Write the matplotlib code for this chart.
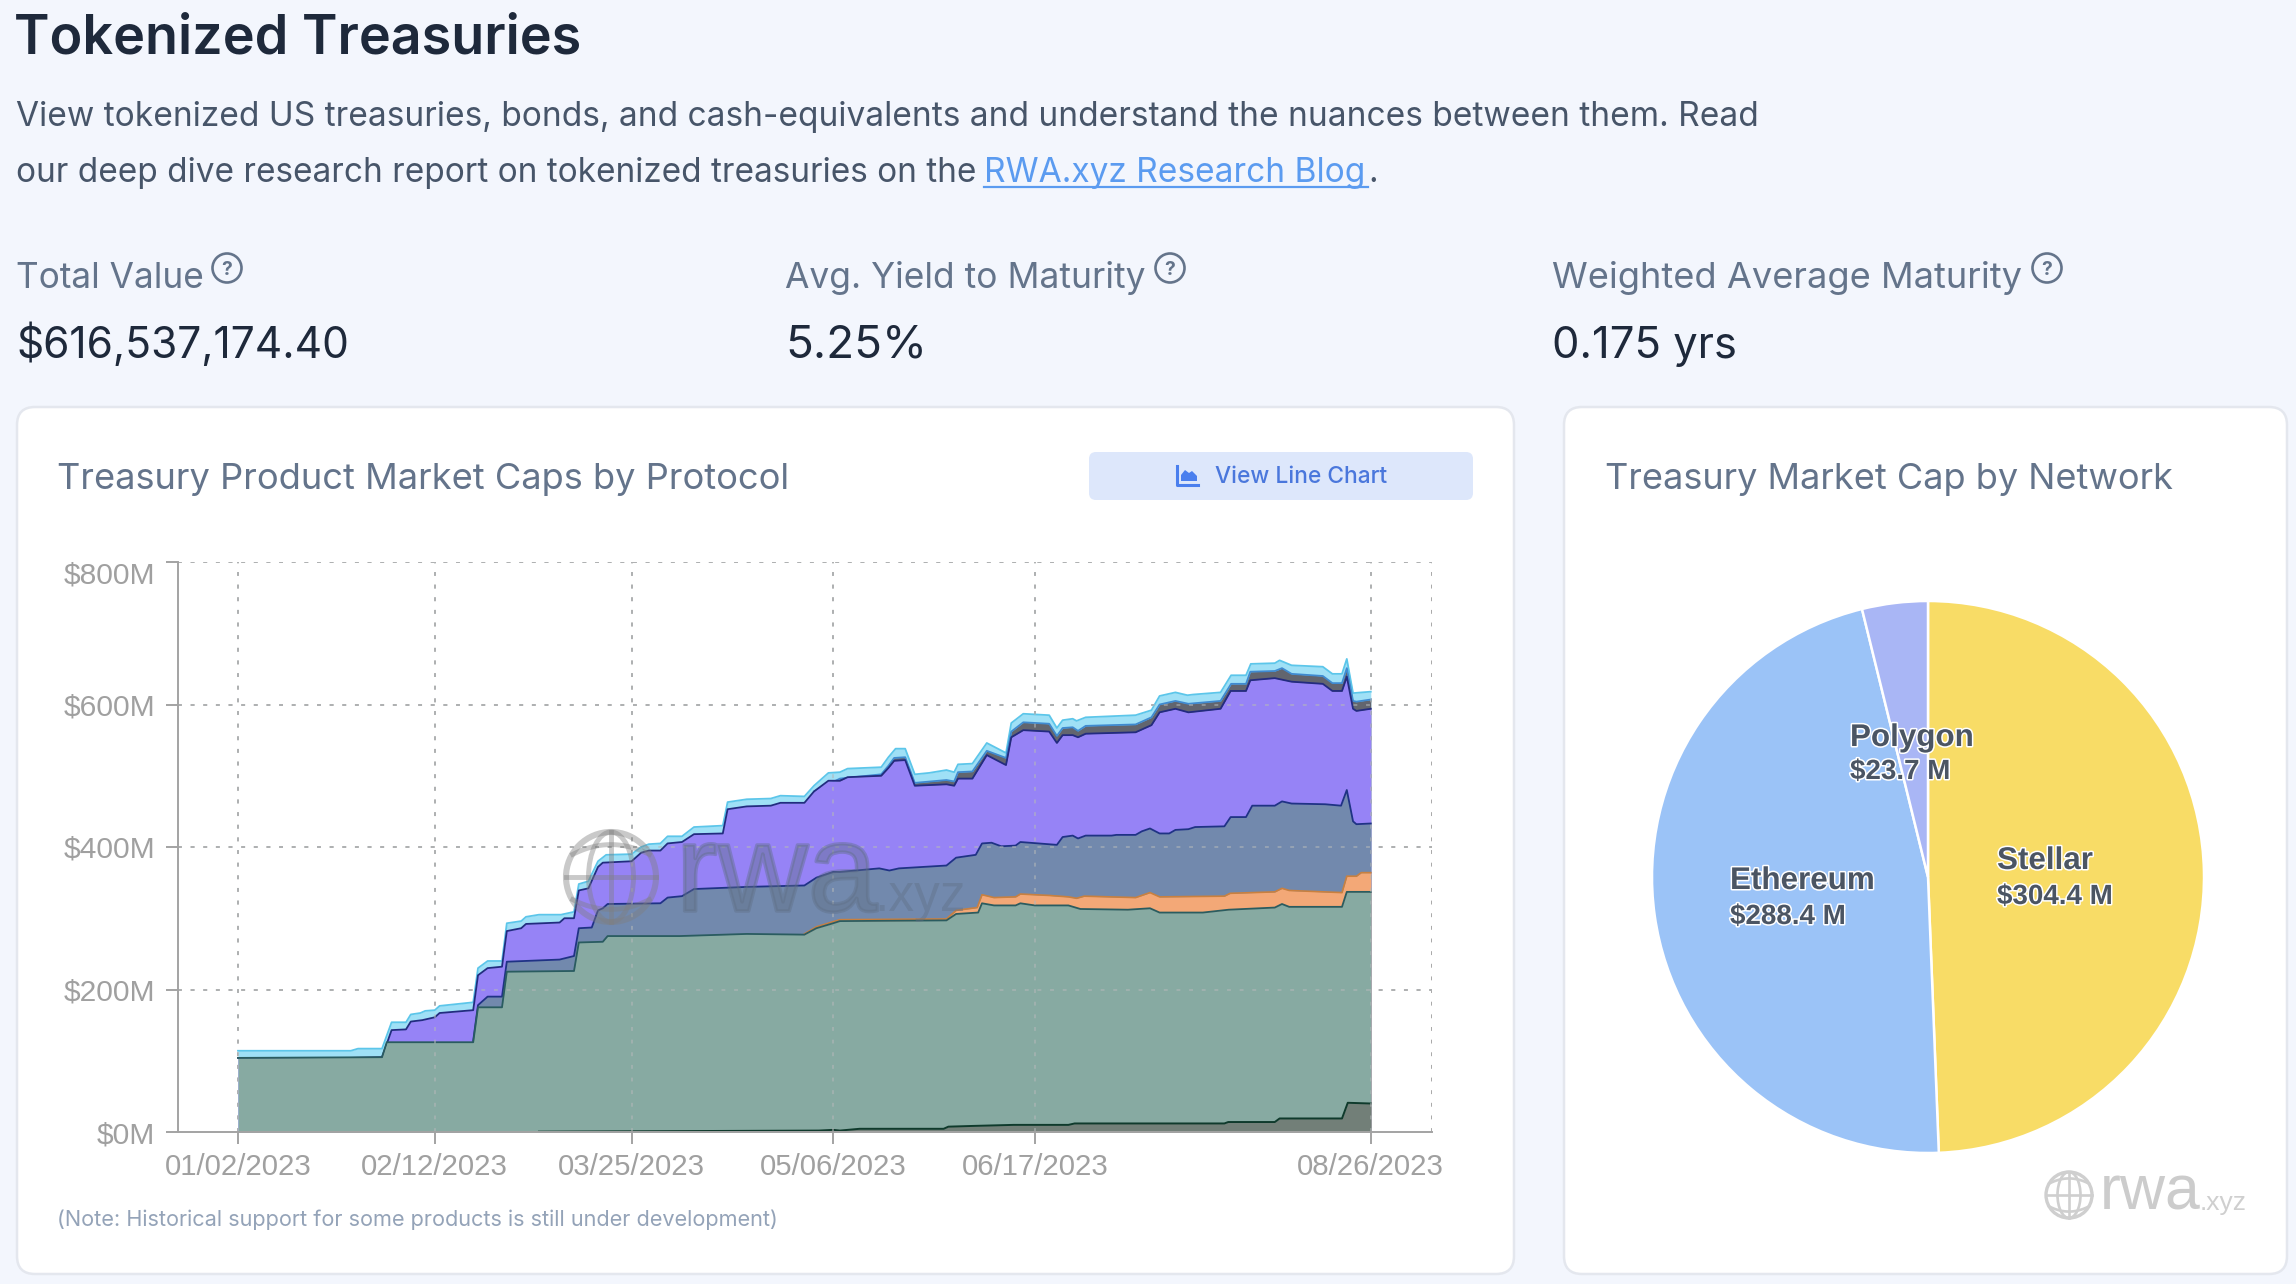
import matplotlib
matplotlib.use('Agg')
import matplotlib.pyplot as plt
from matplotlib.patches import FancyBboxPatch, Circle, Ellipse, Polygon
import matplotlib.patheffects as pe
import numpy as np

plt.rcParams['font.family'] = ['Inter', 'DejaVu Sans']

# curves are read as running totals, x is days since 01/02/2023
tick_days = [0, 41, 82, 124, 166, 236]
tick_labels = ['01/02/2023', '02/12/2023', '03/25/2023', '05/06/2023', '06/17/2023', '08/26/2023']
y_ticks = [0, 200, 400, 600, 800]
y_labels = ['$0M', '$200M', '$400M', '$600M', '$800M']

top_days = [0, 23.5, 25, 30, 32, 35, 36, 38, 39, 41, 42, 49, 50, 52, 55, 56, 59, 60, 62.7, 67.3, 70, 71, 73, 75, 76.7, 82, 84, 85.6, 88, 89.5, 92.5, 95, 101, 102, 106, 111, 113, 118, 120, 123, 125.4, 127, 134, 135.5, 137, 139, 141, 144, 147.6, 149.2, 150, 153, 156, 160, 161.1, 163.6, 169, 170.6, 171.8, 173.9, 174.7, 176.6, 187, 190.3, 192, 195.3, 197.8, 199, 204.7, 206.9, 210, 211, 216, 217, 219.5, 226, 228, 230, 231, 232.3, 236]
top_vals = [114, 114, 117, 117, 154, 154, 165, 167, 170, 171, 177, 182, 230, 240, 240, 293, 296, 302, 305, 305, 309, 348, 352, 380, 389, 390, 400, 404, 405, 415, 415, 428, 430, 463, 467, 468, 472, 471, 486, 504, 505, 510, 512, 526, 538, 538, 502, 504, 508, 505, 516, 517, 546, 532, 574, 587, 585, 567, 578, 580, 577, 582, 585, 592, 612, 617, 613, 614, 617, 641, 641, 657, 658, 662, 655, 653, 643, 643, 664, 616, 618]

gray_days = [120, 125.4, 134, 135.5, 136.7, 139, 141, 147.6, 149.2, 150, 153, 156, 160, 161.1, 163.6, 169, 170.6, 171.8, 173.9, 175, 176.6, 187, 190.3, 192, 195.3, 198, 204.7, 206.9, 210, 210.9, 216, 217.5, 219.5, 226, 228, 230, 231, 232.3, 233, 236]
gray_vals = [478, 496, 502, 514, 525, 526, 490, 494, 492, 505, 506, 535, 525, 562, 575, 573, 556, 567, 568, 563, 570, 572, 582, 600, 605, 601, 605, 629, 629, 646, 647, 651, 643, 640, 630, 630, 651, 605, 604, 607]

purple_days = [0, 23.5, 30, 32, 35, 36, 38.4, 41, 42, 49, 50, 52, 55, 56, 59, 60, 67, 68, 70, 71, 73, 75, 76, 82, 84, 85.6, 88, 89.5, 92.5, 95, 101, 102, 106, 111, 113, 118, 120, 123, 125.4, 127, 134, 135.5, 136.7, 139, 141, 147.6, 149.2, 150, 153, 156, 160, 161.1, 163.6, 169, 170.6, 171.8, 173.9, 175, 176.6, 187, 190.3, 192, 195.3, 198, 204.7, 206.8, 210, 210.9, 216, 219.5, 226, 228, 230, 231, 232.3, 233, 236]
purple_vals = [104, 104, 105, 143, 144, 155, 157, 161, 167, 171, 220, 230, 232, 282, 286, 292, 294, 300, 300, 339, 342, 372, 378, 380, 392, 395, 395, 405, 407, 418, 419, 453, 457, 458, 462, 462, 478, 493, 493, 498, 500, 511, 521, 522, 486, 488, 486, 496, 496, 529, 515, 554, 564, 562, 546, 557, 557, 554, 559, 561, 571, 589, 594, 589, 594, 619, 619, 634, 637, 632, 629, 619, 619, 639, 594, 591, 594]

slate_days = [49, 50, 52, 55, 56, 67, 70, 71, 73.7, 75, 76, 77, 88, 89.5, 92.5, 95, 106, 118, 120.5, 124, 125.4, 133.6, 135.7, 137.7, 147.6, 149.6, 153.7, 155, 157, 159, 162, 163, 170.6, 171.8, 173.9, 175, 176.6, 182, 183, 187, 188.3, 190, 192, 194, 195.3, 198, 199.4, 205.5, 206.8, 210, 211.3, 216, 217.5, 219.5, 226.5, 229.8, 231, 232.3, 233, 236]
slate_vals = [128, 178, 190, 190, 239, 242, 247, 286, 287, 311, 314, 320, 321, 329, 331, 341, 344, 346, 357, 365, 365, 370, 367, 370, 374, 385, 389, 405, 406, 401, 402, 407, 403, 414, 416, 412, 416, 416, 417, 417, 422, 426, 419, 419, 424, 425, 428, 429, 442, 442, 458, 458, 464, 461, 460, 458, 480, 436, 432, 433]

orange_days = [118, 120.5, 125.4, 147.6, 149.6, 154, 155, 157.5, 162, 163, 169, 173, 174.7, 176.3, 187, 190, 192, 205.5, 206.7, 216, 217.5, 219, 230, 231, 233, 234, 236]
orange_vals = [278, 288, 298, 299, 311, 315, 333, 329, 330, 334, 332, 330, 328, 331, 329, 336, 330, 331, 335, 337, 342, 339, 336, 359, 359, 364, 364]

teal_days = [0, 30, 31, 49, 50, 55, 56, 70, 71, 76, 77, 92, 106, 118, 120.5, 124, 125.4, 147.6, 149.6, 154.2, 155, 157.5, 162, 163, 166, 173, 175.5, 185.4, 190, 192, 201, 206.4, 216, 217.5, 219, 230, 231, 236]
teal_vals = [104, 105, 126, 126, 175, 175, 225, 226, 266, 267, 275, 275, 278, 277, 286, 293, 296, 297, 306, 308, 321, 318, 318, 321, 318, 318, 313, 312, 314, 308, 308, 312, 315, 320, 316, 316, 337, 337]

bottom_days = [62.7, 121, 124, 125.4, 129.5, 147, 148, 153, 161.6, 173, 174.3, 205.5, 206.3, 216, 217, 230, 231.2, 236]
bottom_vals = [0.5, 2, 3, 2, 4.5, 4.5, 7.5, 8.5, 10, 10, 12, 12, 14, 14, 19, 19, 41, 40]

networks = ['Stellar', 'Ethereum', 'Polygon']
network_vals = [304.4, 288.4, 23.7]
network_text = ['$304.4 M', '$288.4 M', '$23.7 M']

W, H = 2296, 1284
BG = '#f3f6fd'
DARK = '#1e293b'
MUTED = '#64748b'
ARIAL = 'Liberation Sans'


def px_axes(fig, left, top, right, bottom, **kw):
    return fig.add_axes([left / W, 1 - bottom / H, (right - left) / W, (bottom - top) / H], **kw)


def card(ax, x0, y0, x1, y1):
    ax.add_patch(FancyBboxPatch((x0, y0), x1 - x0, y1 - y0, boxstyle='round,pad=0,rounding_size=18',
                                fc='white', ec='#e4e7ee', lw=1.8))


def help_icon(ax, x, y):
    ax.add_patch(Circle((x, y), 14.5, fc='none', ec=MUTED, lw=1.9))
    ax.text(x, y + 7, '?', fontsize=14, color=MUTED, ha='center', va='baseline', fontweight='bold')


def globe(ax, x, y, r, color, lw, alpha=1.0):
    ax.add_patch(Circle((x, y), r, fc='none', ec=color, lw=lw, alpha=alpha))
    ax.add_patch(Ellipse((x, y), r, 2 * r, fc='none', ec=color, lw=lw * 0.8, alpha=alpha))
    ax.plot([x, x], [y - r, y + r], color=color, lw=lw * 0.8, alpha=alpha)
    ax.plot([x - r, x + r], [y, y], color=color, lw=lw * 0.8, alpha=alpha)
    t = np.linspace(-0.85, 0.85, 30) * r
    for s in (-1, 1):
        ax.plot(x + t, y + s * (0.72 * r - 0.3 * r * (t / r) ** 2), color=color, lw=lw * 0.8, alpha=alpha)


fig = plt.figure(figsize=(W / 100, H / 100), dpi=100, facecolor=BG)

bg = px_axes(fig, 0, 0, W, H, zorder=0)
bg.set_xlim(0, W)
bg.set_ylim(H, 0)
bg.axis('off')

bg.text(14, 53, 'Tokenized Treasuries', fontsize=38.8, color=DARK, fontweight='semibold')
bg.text(16, 126, 'View tokenized US treasuries, bonds, and cash-equivalents and understand the nuances between them. Read',
        fontsize=24.1, color='#475569')
bg.text(16, 182, 'our deep dive research report on tokenized treasuries on the', fontsize=24, color='#475569')
bg.text(984, 182, 'RWA.xyz Research Blog', fontsize=24.1, color='#5b9bf0')
bg.plot([984, 1368], [187, 187], color='#5b9bf0', lw=1.6)
bg.text(1368, 182, '.', fontsize=24.1, color='#475569')

kpi_x = [16, 785, 1552]
kpi_names = ['Total Value', 'Avg. Yield to Maturity', 'Weighted Average Maturity']
kpi_vals = ['$616,537,174.40', '5.25%', '0.175 yrs']
kpi_icon = [227, 1170, 2047]
kpi_name_size = [25.4, 25.5, 26.1]
kpi_val_size = [30.6, 33, 31.3]
for x, name, val, ix, s1, s2 in zip(kpi_x, kpi_names, kpi_vals, kpi_icon, kpi_name_size, kpi_val_size):
    bg.text(x, 288, name, fontsize=s1, color=MUTED)
    bg.text(x, 358, val, fontsize=s2, color=DARK)
    help_icon(bg, ix, 268)

card(bg, 17, 407, 1514, 1274)
card(bg, 1564, 407, 2287, 1274)

bg.text(57, 489, 'Treasury Product Market Caps by Protocol', fontsize=26.1, color=MUTED)
bg.text(1605, 489, 'Treasury Market Cap by Network', fontsize=26, color=MUTED)
bg.text(57, 1226, '(Note: Historical support for some products is still under development)', fontsize=15.6, color='#94a3b8')

# button
bg.add_patch(FancyBboxPatch((1089, 452), 384, 48, boxstyle='round,pad=0,rounding_size=7', fc='#dde7fb', ec='none'))
bg.text(1215, 483, 'View Line Chart', fontsize=16.4, color='#4a77dc', fontweight='medium')
bg.plot([1176.5, 1176.5, 1198], [466, 485, 485], color='#4a7fee', lw=2.2)
bg.add_patch(Polygon([(1181, 481), (1181, 475), (1185, 470), (1189, 473), (1192, 471), (1197, 476), (1197, 481)],
                     fc='#4a7fee', ec='none'))

# stacked area chart, painted from the top curve down
ax = px_axes(fig, 178, 562, 1432, 1132, zorder=1)
ax.patch.set_alpha(0)
ax.set_xlim((178 - 238) / 4.8, (1432 - 238) / 4.8)
ax.set_ylim(0, 800)

grid_dash = (0, (2, 4.5))
for d in tick_days + [ax.get_xlim()[1]]:
    ax.axvline(d, color='#a8a8a8', lw=1.4, ls=grid_dash, zorder=1)
for v in y_ticks[1:]:
    ax.axhline(v, color='#a8a8a8', lw=1.4, ls=grid_dash, zorder=1)

layers = [
    (top_days, top_vals, '#9fe0f6', '#5cc6ea', 1.3),
    (gray_days, gray_vals, '#62656e', '#3f8ad0', 1.3),
    (purple_days, purple_vals, '#9683f6', '#232b80', 1.3),
    (slate_days, slate_vals, '#7289ad', '#1f3384', 1.3),
    (orange_days, orange_vals, '#f3a877', '#c9803f', 1.2),
    (teal_days, teal_vals, '#87aaa2', '#2a5c60', 1.3),
    (bottom_days, bottom_vals, '#727f78', '#0f3a2c', 1.4),
]
for i, (days, vals, fill, edge, lw) in enumerate(layers):
    z = 2 + i * 0.1
    ax.fill_between(days, vals, 0, color=fill, lw=0, zorder=z)
    ax.plot(days, vals, color=edge, lw=lw, zorder=z, solid_joinstyle='round')

# gridlines show faintly through the areas
for d in tick_days:
    ax.axvline(d, color='#b4b8ba', lw=1.4, ls=grid_dash, alpha=0.55, zorder=4)
for v in y_ticks[1:]:
    ax.axhline(v, color='#b4b8ba', lw=1.4, ls=grid_dash, alpha=0.55, zorder=4)

ax.set_xticks(tick_days)
ax.set_xticklabels(tick_labels, family=ARIAL, fontsize=21.2, color='#a0a0a0')
ax.set_yticks(y_ticks)
ax.set_yticklabels(y_labels, family=ARIAL, fontsize=21.6, color='#a0a0a0')
ax.get_yticklabels()[-1].set_va('top')
ax.tick_params(axis='x', length=8.6, width=1.4, color='#a3a3a3', pad=6.5)
ax.tick_params(axis='y', length=8.6, width=1.4, color='#a3a3a3', pad=8)
ax.spines['top'].set_visible(False)
ax.spines['right'].set_visible(False)
for s in ('left', 'bottom'):
    ax.spines[s].set_color('#a3a3a3')
    ax.spines[s].set_linewidth(1.4)
    ax.spines[s].set_zorder(5)

# pie
ax_pie = px_axes(fig, 1928 - 276, 877 - 276, 1928 + 276, 877 + 276, zorder=1)
ax_pie.pie(network_vals, colors=['#f8dc66', '#9bc3f7', '#a9b6f5'], startangle=90, counterclock=False,
           wedgeprops={'edgecolor': 'white', 'linewidth': 1.8}, radius=1)
ax_pie.set_xlim(-1, 1)
ax_pie.set_ylim(-1, 1)

# overlay for labels and watermarks
over = px_axes(fig, 0, 0, W, H, zorder=5)
over.set_xlim(0, W)
over.set_ylim(H, 0)
over.axis('off')

halo = [pe.withStroke(linewidth=2.2, foreground='white')]
label_pos = [(1997, 869, 904), (1730, 889, 924), (1850, 746, 779)]
for name, val, (x, y1, y2) in zip(networks, network_text, label_pos):
    over.text(x, y1, name, family=ARIAL, fontsize=22.6, fontweight='bold', color='#4b5563', path_effects=halo)
    over.text(x, y2, val, family=ARIAL, fontsize=20, fontweight='bold', color='#4b5563', path_effects=halo)

globe(over, 611, 877, 45, '#7f7f7f', 4.4, alpha=0.42)
thick = [pe.Stroke(linewidth=2.5, foreground='#5f6f85', alpha=0.42)]
over.text(676, 911, 'rwa', family=ARIAL, fontsize=90, color='#5f6f85', alpha=0.42, path_effects=thick)
over.text(874, 911, '.xyz', family=ARIAL, fontsize=37, color='#5f6f85', alpha=0.42)

globe(over, 2069, 1195, 23, '#cfcfcf', 2.4)
over.text(2100, 1210, 'rwa', family=ARIAL, fontsize=45, color='#cccccc')
over.text(2200, 1210, '.xyz', family=ARIAL, fontsize=19, color='#cfcfcf')

fig.savefig('out.png', dpi=100, facecolor=BG)
